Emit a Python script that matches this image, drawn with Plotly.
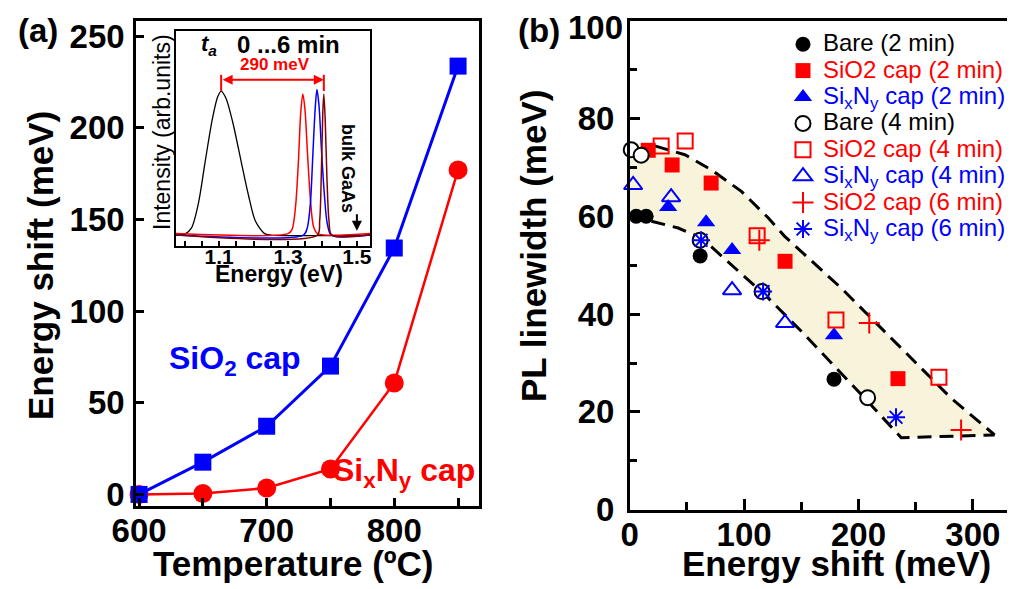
import plotly.graph_objects as go

FONT = "Liberation Sans"
W, H = 1015, 589

# ---------------- Panel (a) data ----------------
temps = [600, 650, 700, 750, 800, 850]
shift_sio2 = [0, 17.6, 37.2, 70, 134.4, 233.6]
shift_sixny = [0, 0.5, 3.5, 13.9, 60.8, 177]
a_xtickvals = [600, 650, 700, 750, 800, 850]
a_xticktext = ["600", "", "700", "", "800", ""]
a_ytickvals = [0, 50, 100, 150, 200, 250]

# ---------------- Inset spectra ----------------
e_black = [0.975, 1.0, 1.02, 1.04, 1.059, 1.08, 1.096, 1.106, 1.12, 1.14, 1.165, 1.185, 1.205, 1.232, 1.25, 1.538]
i_black = [0.0, 0.005, 0.05, 0.22, 0.5, 0.8, 0.96, 1.0, 0.95, 0.78, 0.5, 0.28, 0.1, 0.01, 0.0, 0.0]
e_red = [0.975, 1.30, 1.312, 1.322, 1.33, 1.337, 1.343, 1.349, 1.357, 1.365, 1.374, 1.386, 1.538]
i_red = [0.01, 0.01, 0.04, 0.2, 0.5, 0.85, 0.98, 0.88, 0.55, 0.25, 0.06, 0.01, 0.01]
e_blue = [0.975, 1.345, 1.356, 1.365, 1.372, 1.379, 1.384, 1.39, 1.397, 1.405, 1.414, 1.426, 1.538]
i_blue = [0.0, 0.0, 0.05, 0.22, 0.55, 0.88, 1.01, 0.9, 0.6, 0.3, 0.08, 0.0, 0.0]
e_brown = [0.975, 1.385, 1.392, 1.397, 1.401, 1.404, 1.408, 1.413, 1.419, 1.427, 1.538]
i_brown = [0.0, 0.0, 0.1, 0.45, 0.85, 0.98, 0.8, 0.4, 0.1, 0.0, 0.0]
inset_tickvals = [1.0, 1.05, 1.1, 1.15, 1.2, 1.25, 1.3, 1.35, 1.4, 1.45, 1.5]
inset_ticktext = ["", "", "1.1", "", "", "", "1.3", "", "", "", "1.5"]
peak_start, peak_end, arrow_level = 1.106, 1.404, 1.078
bulk_gaas_energy = 1.5

# ---------------- Panel (b) data ----------------
bare2_x = [-1.3, 5.7, 14.4, 61.6, 178.6]
bare2_y = [60, 60, 60, 51.9, 26.7]
sio2_2_x = [16.2, 37.1, 71.2, 135.8, 234.5]
sio2_2_y = [73.5, 70.5, 66.8, 50.8, 26.8]
sixny_2_x = [33.6, 66.8, 89.5, 178.6]
sixny_2_y = [61.9, 58.8, 53.1, 35.7]
bare4_x = [1.3, 10, 61.6, 115.7, 208]
bare4_y = [73.6, 72.5, 55.1, 44.6, 22.9]
sio2_4_x = [27.5, 48.5, 111.4, 180.3, 270.3]
sio2_4_y = [74.4, 75.4, 56.0, 38.8, 27.1]
sixny_4_x = [3, 36.2, 89.5, 135.8]
sixny_4_y = [66.4, 63.9, 44.9, 38.2]
sio2_6_x = [113.3, 209.4, 289.7]
sio2_6_y = [55.1, 38.2, 16.3]
sixny_6_x = [62.4, 116.6, 232.8]
sixny_6_y = [55.1, 44.6, 18.9]

upper_x = [0, 22, 48.2, 71.4, 97.6, 121, 135.5, 185, 237.4, 281, 319]
upper_y = [75.2, 74.4, 72.6, 69.5, 65.1, 59.7, 55.9, 45.3, 33.1, 22.8, 15.3]
lower_x = [0, 19, 42.4, 62.7, 91.9, 121, 150, 179.2, 207.9, 237.4]
lower_y = [59.3, 59, 57.6, 55.6, 49.4, 43.3, 36.5, 29.3, 22.2, 14.7]

b_xtickvals = [0, 100, 200, 300]
b_ytickvals = [0, 20, 40, 60, 80]
b_ytop_label = "100"

RED, BLUE, BLACK, BROWN = "#ff0000", "#0000ff", "#000000", "#800000"

fig = go.Figure()

# ---- Panel (a) traces ----
fig.add_trace(go.Scatter(x=temps, y=shift_sixny, mode="lines+markers", xaxis="x", yaxis="y",
                         line=dict(color=RED, width=2.5),
                         marker=dict(symbol="circle", size=19, color=RED),
                         showlegend=False, cliponaxis=False))
fig.add_trace(go.Scatter(x=temps, y=shift_sio2, mode="lines+markers", xaxis="x", yaxis="y",
                         line=dict(color=BLUE, width=3),
                         marker=dict(symbol="square", size=17, color=BLUE),
                         showlegend=False, cliponaxis=False))

# ---- Inset traces ----
for ex, iy, col, wd in [(e_black, i_black, BLACK, 1.3), (e_red, i_red, RED, 1.5),
                        (e_blue, i_blue, BLUE, 1.5), (e_brown, i_brown, BROWN, 1.5)]:
    fig.add_trace(go.Scatter(x=ex, y=iy, mode="lines", xaxis="x3", yaxis="y3",
                             line=dict(color=col, width=wd, shape="spline", smoothing=0.8),
                             showlegend=False))

# ---- Panel (b) shaded band ----
poly_x = upper_x + lower_x[::-1]
poly_y = upper_y + lower_y[::-1]
fig.add_trace(go.Scatter(x=poly_x, y=poly_y, mode="lines", fill="toself",
                         fillcolor="#f8f4dc", line=dict(width=0), xaxis="x2", yaxis="y2",
                         showlegend=False, hoverinfo="skip"))
fig.add_trace(go.Scatter(x=upper_x[1:], y=upper_y[1:], mode="lines", xaxis="x2", yaxis="y2",
                         line=dict(color=BLACK, width=3, dash="14px,8px"), showlegend=False))
fig.add_trace(go.Scatter(x=lower_x[1:] + [upper_x[-1]], y=lower_y[1:] + [upper_y[-1]],
                         mode="lines", xaxis="x2", yaxis="y2",
                         line=dict(color=BLACK, width=3, dash="14px,8px"), showlegend=False))

def span(txt, col):
    return f'<span style="font-size:24px;color:{col}">{txt}</span>'

series = [
    (sio2_2_x, sio2_2_y, span("SiO2 cap (2 min)", RED), dict(symbol="square", size=15, color=RED), 2),
    (sixny_2_x, sixny_2_y, span("Si<sub>x</sub>N<sub>y</sub> cap (2 min)", BLUE), dict(symbol="triangle-up", size=16, color=BLUE), 3),
    (bare4_x, bare4_y, span("Bare (4 min)", BLACK), dict(symbol="circle", size=15, color="white", line=dict(color=BLACK, width=2)), 4),
    (sio2_4_x, sio2_4_y, span("SiO2 cap (4 min)", RED), dict(symbol="square-open", size=15, color=RED, line=dict(color=RED, width=2)), 5),
    (sixny_4_x, sixny_4_y, span("Si<sub>x</sub>N<sub>y</sub> cap (4 min)", BLUE), dict(symbol="triangle-up-open", size=16, color=BLUE, line=dict(color=BLUE, width=2)), 6),
    (sio2_6_x, sio2_6_y, span("SiO2 cap (6 min)", RED), dict(symbol="cross-thin-open", size=15, color=RED, line=dict(color=RED, width=2)), 7),
    (sixny_6_x, sixny_6_y, span("Si<sub>x</sub>N<sub>y</sub> cap (6 min)", BLUE), dict(symbol="asterisk-open", size=15, color=BLUE, line=dict(color=BLUE, width=2)), 8),
    (bare2_x, bare2_y, span("Bare (2 min)", BLACK), dict(symbol="circle", size=15, color=BLACK), 1),
]
for xs, ys, name, mk, rank in series:
    fig.add_trace(go.Scatter(x=xs, y=ys, mode="markers", name=name, marker=mk,
                             xaxis="x2", yaxis="y2", legendrank=rank, cliponaxis=False))

def px(x):
    return x / W

def py(y):
    return 1 - y / H

axis_common = dict(showline=True, linecolor=BLACK, linewidth=2.5, ticks="inside",
                   tickcolor=BLACK, tickwidth=2.5, showgrid=False, zeroline=False,
                   automargin=False,
                   tickfont=dict(family=FONT, size=33, color=BLACK, weight="bold"))

fig.update_layout(
    width=W, height=H, margin=dict(l=0, r=0, t=0, b=0, autoexpand=False),
    paper_bgcolor="white", plot_bgcolor="rgba(0,0,0,0)",
    font=dict(family=FONT, color=BLACK),
    xaxis=dict(domain=[px(128), px(471)], range=[597.6, 866.4], anchor="y", mirror=True,
               tickvals=a_xtickvals, ticktext=a_xticktext, ticklen=8, ticklabelstandoff=-6,
               **axis_common),
    yaxis=dict(domain=[py(498), py(13)], range=[-6.3, 258.2], anchor="x", mirror=True,
               tickvals=a_ytickvals, ticklen=8, ticklabelstandoff=2, **axis_common),
    xaxis2=dict(domain=[px(621.7), 1.0], range=[0, 343.8], anchor="y2", mirror=True,
                tickvals=b_xtickvals, ticklen=11, ticklabelstandoff=-6,
                minor=dict(dtick=50, tick0=0, ticks="inside", ticklen=8, tickwidth=2.5, tickcolor=BLACK),
                **axis_common),
    yaxis2=dict(domain=[py(501.7), py(12.7)], range=[0, 100], anchor="x2",
                tickvals=b_ytickvals, ticklen=11, ticklabelstandoff=6,
                minor=dict(dtick=10, tick0=0, ticks="inside", ticklen=8, tickwidth=2.5, tickcolor=BLACK),
                **axis_common),
    xaxis3=dict(domain=[px(168), px(362)], range=[0.975, 1.538], anchor="y3", mirror=True,
                showline=True, linecolor=BLACK, linewidth=2, ticks="inside", ticklen=5,
                tickwidth=1.5, tickcolor=BLACK, tickvals=inset_tickvals, ticktext=inset_ticktext,
                showgrid=False, zeroline=False, automargin=False, ticklabelstandoff=-9,
                tickfont=dict(family=FONT, size=21, color=BLACK, weight="bold")),
    yaxis3=dict(domain=[py(238), py(23)], range=[-0.076, 1.417], anchor="x3", mirror=True,
                showline=True, linecolor=BLACK, linewidth=2, ticks="", showticklabels=False,
                showgrid=False, zeroline=False, automargin=False),
    legend=dict(x=px(775), xanchor="left", y=py(18), yanchor="top",
                font=dict(family=FONT, size=18, color=BLACK), bgcolor="rgba(0,0,0,0)",
                itemwidth=30, tracegroupgap=0, traceorder="normal"),
    showlegend=True,
)

ann = []
def txt(x, y, s, size, col=BLACK, bold=True, angle=0, italic=False, xanchor="center"):
    ann.append(dict(x=px(x), y=py(y), xref="paper", yref="paper", text=s, showarrow=False,
                    textangle=angle, xanchor=xanchor, yanchor="middle",
                    font=dict(family=FONT, size=size, color=col,
                              weight="bold" if bold else "normal",
                              style="italic" if italic else "normal")))

txt(30, 22, "(a)", 33)
txt(531, 22, "(b)", 33)
txt(617, 20, b_ytop_label, 33, xanchor="right")
txt(32, 258, "Energy shift (meV)", 35, angle=-90)
txt(285, 555, "Temperature (ºC)", 35)
txt(525, 238, "PL linewidth (meV)", 35, angle=-90)
txt(828, 555, "Energy shift (meV)", 35)
txt(227, 352, "SiO<sub>2</sub> cap", 32, col=BLUE)
txt(396, 464, "Si<sub>x</sub>N<sub>y</sub> cap", 32, col=RED)
# inset texts
txt(201, 37, "t<sub>a</sub>", 22, italic=True)
txt(280, 36, "0 ...6 min", 24)
txt(267, 56, "290 meV", 17, col=RED)
txt(340, 160, "bulk GaAs", 18, angle=90)
txt(154, 124, "Intensity (arb.units)", 23, bold=False, angle=-90)
txt(271, 266, "Energy (eV)", 23)

ann.append(dict(x=peak_end, y=arrow_level, ax=peak_start, ay=arrow_level, xref="x3", yref="y3",
                axref="x3", ayref="y3", text="", showarrow=True, arrowhead=2, arrowsize=1,
                arrowwidth=2, arrowcolor=RED, arrowside="end+start"))
ann.append(dict(x=bulk_gaas_energy, y=0.03, ax=0, ay=-18, xref="x3", yref="y3", text="",
                showarrow=True, arrowhead=2, arrowsize=1, arrowwidth=2, arrowcolor=BLACK))
fig.update_layout(annotations=ann)

shapes = []
for xv in [peak_start, peak_end]:
    shapes.append(dict(type="line", xref="x3", yref="y3", x0=xv, x1=xv, y0=1.0, y1=arrow_level + 0.035,
                       line=dict(color=RED, width=2)))
fig.update_layout(shapes=shapes)

fig.write_html("out.html")
